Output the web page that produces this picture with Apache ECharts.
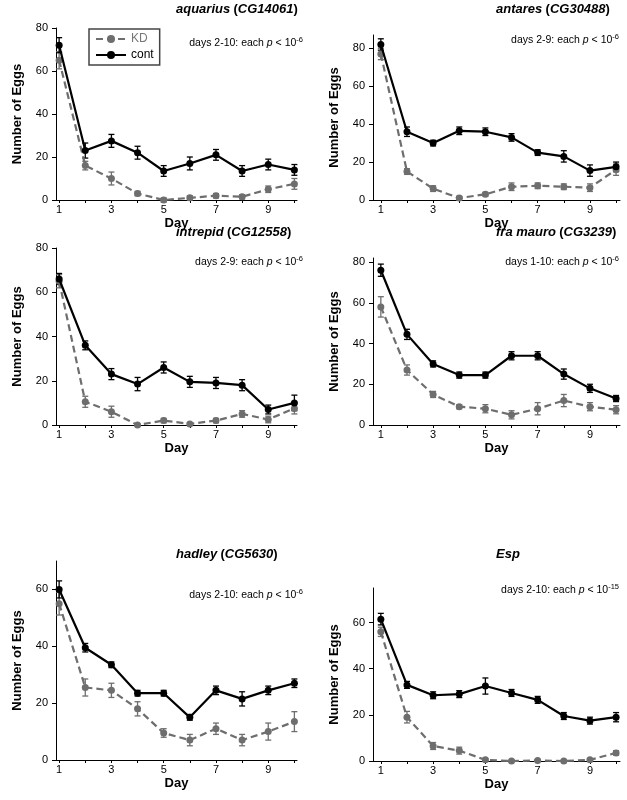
<!DOCTYPE html><html><head><meta charset="utf-8"><script src="https://cdn.jsdelivr.net/npm/echarts@6/dist/echarts.min.js"></script>
<style>body{margin:0}#c{width:627px;height:800px}</style></head><body><div id="c"></div><script>
const days=[1,2,3,4,5,6,7,8,9,10];
const titles=[["aquarius","CG14061"],["antares","CG30488"],["intrepid","CG12558"],["fra mauro","CG3239"],["hadley","CG5630"],["Esp",""]];
const notes=[["days 2-10: each ","-6"],["days 2-9: each ","-6"],["days 2-9: each ","-6"],["days 1-10: each ","-6"],["days 2-10: each ","-6"],["days 2-10: each ","-15"]];
const kd=[[65,16,10,3,0,1,2,1.5,5,7.5],[77,15,6,1,3,7,7.5,7,6.5,16],[65,10.5,6,0,2,0.5,2,5,2.5,7.5],[58,27,15,9,8,5,8,12,9,7.5],[55,25.5,24.5,18,9.5,7,11,7,10,13.5],[56,19,6.5,4.5,0.5,0,0.2,0,0.5,3.5]];
const kdErr=[[4,2,3,1,1,1,1,1,1.5,2.5],[3,1.5,1.5,1,1,2,1.5,1.5,2,3],[3,2.5,2.5,0.5,1,0.5,1,1.5,1.5,2.5],[5,2.5,1.5,1,2,2,3,3,2,2],[4,3,2.5,2.5,1.5,2,2,2,3,3.5],[2,2.5,1.5,1.5,0.5,0.3,0.3,0.3,0.5,1]];
const ct=[[72,23,27.5,22,13.5,17,21,13.5,16.5,14],[82,36,30,36.5,36,33,25,23,15.5,17.5],[66,36,23,18.5,26,19.5,19,18,7,10],[76,44.5,30,24.5,24.5,34,34,25,18,13],[60,39.5,33.5,23.5,23.5,15,24.5,21.5,24.5,27],[61.5,33,28.5,29,32.5,29.5,26.5,19.5,17.5,19]];
const ctErr=[[3.5,3.5,3,3,2.5,3,2.5,2.5,2.5,2.5],[3,2.5,1.5,2,2,2,1.5,3,3,2.5],[2.5,2,2.5,3,2.5,2.5,2.5,2.5,2,3.5],[3,2.5,1.5,1.5,1.5,2,2,2.5,2,1.5],[3,1.5,1,1,1,1,1.5,2.5,1.5,1.5],[2.5,1.5,1.5,1.5,3.5,1.5,1.5,1.5,1.5,2]];
const yMax=[80,87,80,82,70,75];
const grids=[[56,28,241,172],[373,35,247,165],[56,248,241,177],[373,258,247,167],[56,561,241,199],[373,588,247,173]];
const xRange=[[0.88,10.1],[0.7,10.15]];
const F='Liberation Sans, Arial, sans-serif';
const opt={animation:false,grid:[],xAxis:[],yAxis:[],series:[],graphic:[],
 legend:{left:89,top:29,orient:'vertical',itemGap:4,padding:[4,6,4,6],borderColor:'#444',borderWidth:1.5,itemWidth:30,itemHeight:10,
  data:[{name:'KD',textStyle:{color:'#777'}},{name:'cont',textStyle:{color:'#000'}}],textStyle:{fontFamily:F,fontSize:12}}};
function errSeries(i,vals,errs,color){
 return {type:'custom',xAxisIndex:i,yAxisIndex:i,z:3,data:days.map((d,k)=>[d,vals[k]-errs[k],vals[k]+errs[k]]),
  renderItem:(p,api)=>{const a=api.coord([api.value(0),api.value(1)]),b=api.coord([api.value(0),api.value(2)]);
   const s={stroke:color,lineWidth:1.3};
   return {type:'group',children:[{type:'line',shape:{x1:a[0],y1:a[1],x2:b[0],y2:b[1]},style:s},
    {type:'line',shape:{x1:a[0]-3,y1:a[1],x2:a[0]+3,y2:a[1]},style:s},{type:'line',shape:{x1:b[0]-3,y1:b[1],x2:b[0]+3,y2:b[1]},style:s}]};}};
}
for(let i=0;i<6;i++){
 const g=grids[i],c=i%2,xr=xRange[c];
 opt.grid.push({left:g[0],top:g[1],width:g[2],height:g[3]});
 opt.xAxis.push({type:'value',gridIndex:i,min:xr[0],max:xr[1],name:'Day',nameLocation:'middle',nameGap:17,
  nameTextStyle:{fontFamily:F,fontWeight:'bold',fontSize:13,color:'#000'},
  axisLine:{lineStyle:{color:'#000'}},splitLine:{show:false},
  axisTick:{customValues:days,length:3,lineStyle:{color:'#000'}},
  axisLabel:{customValues:[1,3,5,7,9],margin:4,fontFamily:F,fontSize:11,color:'#000'}});
 opt.yAxis.push({type:'value',gridIndex:i,min:0,max:yMax[i],interval:20,name:'Number of Eggs',nameLocation:'middle',nameGap:32,
  nameTextStyle:{fontFamily:F,fontWeight:'bold',fontSize:13,color:'#000'},
  axisLine:{show:true,lineStyle:{color:'#000'}},splitLine:{show:false},axisTick:{show:true,length:4,lineStyle:{color:'#000'}},
  axisLabel:{showMaxLabel:yMax[i]%20===0,fontFamily:F,fontSize:11,color:'#000'}});
 opt.series.push(errSeries(i,kd[i],kdErr[i],'#6e6e6e'));
 opt.series.push(errSeries(i,ct[i],ctErr[i],'#000'));
 opt.series.push({name:'KD',type:'line',xAxisIndex:i,yAxisIndex:i,data:days.map((d,k)=>[d,kd[i][k]]),symbol:'circle',symbolSize:7,
  lineStyle:{color:'#6e6e6e',width:2.2,type:[7,4]},itemStyle:{color:'#6e6e6e'},z:4});
 opt.series.push({name:'cont',type:'line',xAxisIndex:i,yAxisIndex:i,data:days.map((d,k)=>[d,ct[i][k]]),symbol:'circle',symbolSize:7,
  lineStyle:{color:'#000',width:2.2},itemStyle:{color:'#000'},z:5});
 const t=titles[i];
 opt.graphic.push({type:'text',left:c?372+124:56+120,top:[3,3,226,226,548,548][i],
  style:{text:t[1]?'{i|'+t[0]+'} {b|(}{i|'+t[1]+'}{b|)}':'{i|'+t[0]+'}',textAlign:'center',
  rich:{i:{fontFamily:F,fontSize:13,fontWeight:'bold',fontStyle:'italic'},b:{fontFamily:F,fontSize:13,fontWeight:'bold'}}}});
 const n=notes[i];
 opt.graphic.push({type:'text',right:c?8:324,top:[36,33,255,255,588,583][i],
  style:{text:'{a|'+n[0]+'}{p|p}{a| < 10}{s|'+n[1]+'}',rich:{a:{fontFamily:F,fontSize:10.5,color:'#111'},p:{fontFamily:F,fontSize:10.5,fontStyle:'italic',color:'#111'},s:{fontFamily:F,fontSize:7.5,verticalAlign:'top',padding:[0,0,6,0],color:'#111'}}}});
}
echarts.init(document.getElementById('c')).setOption(opt);
</script></body></html>
